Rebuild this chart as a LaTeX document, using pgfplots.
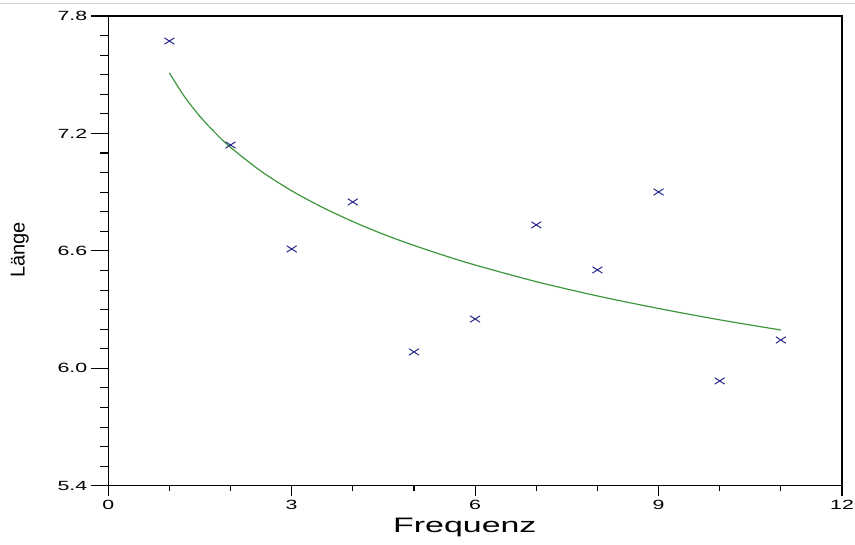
\documentclass[border=0pt]{standalone}
\usepackage{fontspec}
\usepackage{pgfplots}
\pgfplotsset{compat=1.18}
\setmainfont{Liberation Sans}
\newfontfamily\widefont[FakeStretch=1.6]{Liberation Sans}
\newfontfamily\labelfont[FakeStretch=1.62]{Liberation Sans}
\definecolor{markblue}{RGB}{40,40,140}
\definecolor{fitgreen}{RGB}{60,150,60}
\begin{document}
\begin{tikzpicture}
\path[use as bounding box] (-81.2pt,-44.25pt) rectangle (560.25pt,364.5pt);
\draw[black!18, line width=0.8pt] (-81.2pt,362.2pt) -- (560.25pt,362.2pt);
\pgfplotsset{
  common/.style={
    scale only axis, width=550.5pt, height=352.5pt,
    xmin=0, xmax=12, ymin=5.4, ymax=7.8,
    tick align=outside, xtick pos=left, ytick pos=left,
    axis line style={line width=0.9pt},
    every tick/.style={black, line width=0.8pt},
    every minor tick/.style={black, line width=0.8pt},
    tick label style={font=\widefont\fontsize{10}{11}\selectfont},
    /pgf/number format/assume math mode=true,
  }
}
\begin{axis}[common,
  ytick={5.4,6.0,6.6,7.2,7.8}, minor y tick num=5,
  xtick=\empty,
  major tick length=12.75pt, minor tick length=6pt,
  yticklabel style={/pgf/number format/fixed, /pgf/number format/fixed zerofill, /pgf/number format/precision=1, xshift=0.5pt},
  ylabel={Länge},
  ylabel style={font=\fontsize{15}{17}\selectfont, at={(axis description cs:-0.1206,0.502)}, anchor=center},
]
\addplot[fitgreen, line width=0.9pt, smooth] coordinates {
(1,7.509) (1.25,7.387) (1.5,7.287) (1.75,7.203) (2,7.129) (2.5,7.007) (3,6.907) (3.5,6.823) (4,6.750) (4.5,6.685) (5,6.628) (5.5,6.576) (6,6.528) (7,6.443) (8,6.370) (9,6.306) (10,6.248) (11,6.196)
};
\addplot[only marks, mark=x, mark size=3.4pt, mark options={xscale=1.55, markblue, line width=0.75pt}] coordinates {
(1,7.672) (2,7.141) (3,6.610) (4,6.850) (5,6.084) (6,6.252) (7,6.733) (8,6.503) (9,6.901) (10,5.936) (11,6.145)
};
\draw[line width=1.6pt] (rel axis cs:1,0) -- (rel axis cs:1,1);
\end{axis}
\begin{axis}[common,
  xtick={0,3,6,9,12}, minor x tick num=2,
  ytick=\empty,
  major tick length=7.5pt, minor tick length=4pt,
  xlabel={Frequenz},
  xlabel style={font=\labelfont\fontsize{15.7}{17}\selectfont, at={(axis description cs:0.486,0)}, yshift=-35.2pt, anchor=base},
]
\end{axis}
\end{tikzpicture}
\end{document}
